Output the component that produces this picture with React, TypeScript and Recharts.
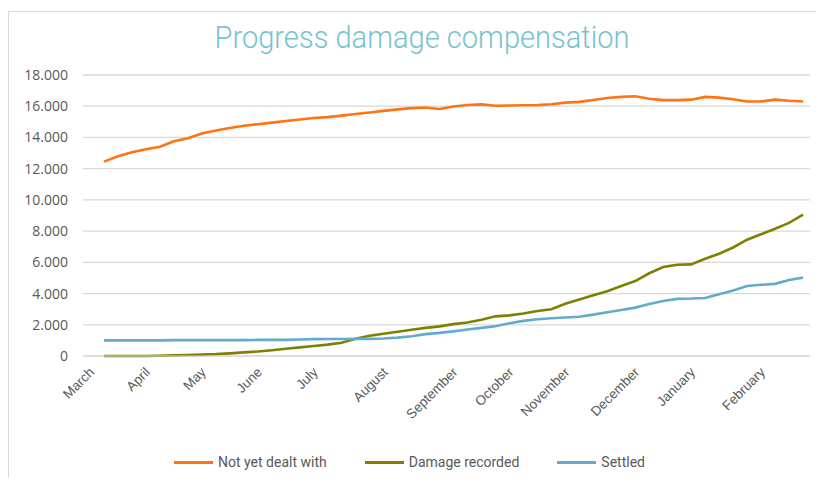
import { LineChart, Line, XAxis, YAxis, CartesianGrid, Legend } from "recharts";

// one point per week, March -> end of February
const notYetDealtWith = [
  12450, 12800, 13050, 13250, 13400, 13750, 13950, 14250, 14450, 14600,
  14750, 14850, 14950, 15050, 15150, 15250, 15300, 15400, 15500, 15600,
  15700, 15800, 15880, 15920, 15820, 15980, 16080, 16120, 16030, 16050,
  16060, 16070, 16130, 16230, 16280, 16400, 16530, 16600, 16640, 16480,
  16390, 16390, 16420, 16600, 16550, 16450, 16300, 16300, 16420, 16350,
  16300,
];

const damageRecorded = [
  0, 0, 0, 0, 20, 40, 60, 90, 120, 170,
  230, 290, 370, 460, 550, 640, 730, 850, 1100, 1300,
  1420, 1550, 1680, 1800, 1900, 2040, 2150, 2320, 2540, 2600,
  2720, 2880, 3000, 3350, 3620, 3890, 4150, 4480, 4800, 5300,
  5700, 5850, 5870, 6230, 6550, 6950, 7450, 7800, 8150, 8530,
  9060,
];

const settled = [
  1000, 1000, 1000, 1000, 1000, 1020, 1020, 1020, 1020, 1020,
  1020, 1030, 1030, 1030, 1060, 1080, 1090, 1090, 1100, 1100,
  1120, 1180, 1260, 1400, 1480, 1580, 1700, 1800, 1900, 2100,
  2250, 2350, 2420, 2470, 2510, 2650, 2800, 2950, 3100, 3330,
  3520, 3660, 3680, 3720, 3950, 4200, 4480, 4560, 4620, 4870,
  5020,
];

// week index where each month label sits
const monthNames = [
  "March", "April", "May", "June", "July", "August",
  "September", "October", "November", "December", "January", "February",
];
const monthStart = [0, 4, 8, 12, 16, 21, 26, 30, 34, 39, 43, 48];

const yTicks = [0, 2000, 4000, 6000, 8000, 10000, 12000, 14000, 16000, 18000];

const seriesNames = ["Not yet dealt with", "Damage recorded", "Settled"];
const COLORS = ["#ff7315", "#7d8000", "#62abcd"];

const data = notYetDealtWith.map((v, i) => ({
  idx: i,
  open: v,
  recorded: damageRecorded[i],
  settled: settled[i],
}));

function fmtThousands(n: number) {
  return String(n).replace(/\B(?=(\d{3})+(?!\d))/g, ".");
}

function MonthTick(props: any) {
  const { x, y, payload } = props;
  const i = monthStart.indexOf(payload.value);
  return (
    <g transform={`translate(${x - 9},${y + 9})`}>
      <text
        x={0}
        y={0}
        textAnchor="end"
        transform="rotate(-45)"
        fill="#595959"
        fontSize={13.5}
        fontFamily="'Liberation Sans', Arial, sans-serif"
      >
        {i >= 0 ? monthNames[i] : ""}
      </text>
    </g>
  );
}

function LegendBox() {
  return (
    <div
      style={{
        display: "flex",
        justifyContent: "center",
        height: 20,
        alignItems: "center",
        paddingRight: 14,
        fontFamily: "Roboto, sans-serif",
        fontSize: 14,
        color: "#595959",
      }}
    >
      {seriesNames.map((name, i) => (
        <div
          key={name}
          style={{ display: "flex", alignItems: "center", marginLeft: i ? 38 : 0 }}
        >
          <div style={{ width: 39, height: 3, background: COLORS[i], marginRight: 5 }} />
          <span>{name}</span>
        </div>
      ))}
    </div>
  );
}

export default function App() {
  return (
    <div
      style={{
        position: "relative",
        top: 3,
        width: 810,
        height: 470,
        border: "1px solid #d9d9d9",
        boxSizing: "border-box",
        background: "#fff",
      }}
    >
      <div style={{ position: "absolute", left: 0, top: 0 }}>
        <LineChart
          width={808}
          height={466}
          data={data}
          margin={{ top: 63, right: 7, bottom: 6, left: 14 }}
        >
          <CartesianGrid vertical={false} stroke="#d9d9d9" strokeWidth={1.3} />
          <XAxis
            type="number"
            dataKey="idx"
            domain={[0, 50]}
            ticks={monthStart}
            interval={0}
            padding={{ left: 21, right: 7 }}
            axisLine={{ stroke: "#d9d9d9" }}
            tickLine={false}
            tick={<MonthTick />}
            height={96}
          />
          <YAxis
            domain={[0, 18000]}
            ticks={yTicks}
            interval={0}
            axisLine={false}
            tickLine={false}
            width={60}
            tickMargin={9}
            tickFormatter={fmtThousands}
            tick={{ fill: "#595959", fontSize: 14, fontFamily: "'Open Sans', sans-serif" }}
          />
          <Legend verticalAlign="bottom" content={<LegendBox />} />
          <Line dataKey="open" name={seriesNames[0]} stroke={COLORS[0]} strokeWidth={2.6} dot={false} isAnimationActive={false} />
          <Line dataKey="recorded" name={seriesNames[1]} stroke={COLORS[1]} strokeWidth={2.6} dot={false} isAnimationActive={false} />
          <Line dataKey="settled" name={seriesNames[2]} stroke={COLORS[2]} strokeWidth={2.6} dot={false} isAnimationActive={false} />
        </LineChart>
      </div>
      <svg width={808} height={60} style={{ position: "absolute", left: 0, top: 0 }}>
        <text
          x={413}
          y={36}
          textAnchor="middle"
          textLength={415}
          lengthAdjust="spacingAndGlyphs"
          fontSize={32}
          fontWeight={300}
          fontFamily="Roboto, sans-serif"
          fill="#78c2ce"
        >
          Progress damage compensation
        </text>
      </svg>
    </div>
  );
}
